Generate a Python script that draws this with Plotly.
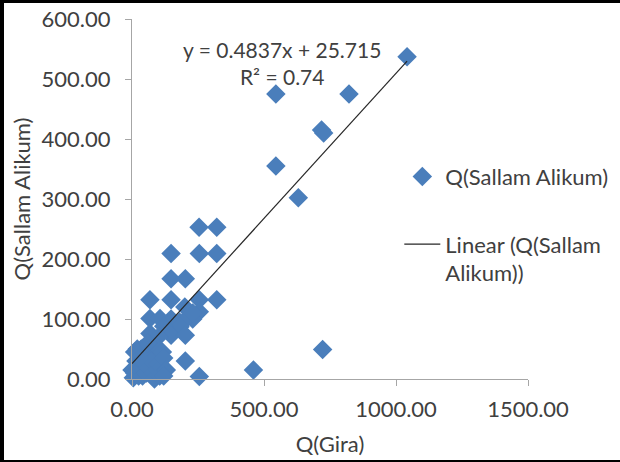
import plotly.graph_objects as go

# Data (Q(Gira) vs Q(Sallam Alikum))
q_gira = [1042, 545, 822, 718, 726, 545, 630, 722, 460, 255, 202,
          254, 321, 148, 255, 321, 148, 202,
          68, 148, 255, 321, 200, 255, 230, 68, 106, 148, 180, 205, 182, 120,
          68, 148, 202, 100, 230,
          5, 0, 10, 15, 20, 10, 25, 30, 35, 40, 45, 50, 55, 60, 65, 70, 75, 80,
          85, 90, 95, 100, 100, 105, 110, 115, 120, 130, 120, 60, 30]
q_sallam = [537, 475, 475, 415, 410, 355, 302, 49, 15, 4, 30,
            253, 253, 209, 209, 209, 167, 167,
            132, 132, 132, 132, 120, 112, 100, 101, 101, 100, 95, 100, 87, 88,
            76, 73, 73, 70, 110,
            2, 15, 10, 30, 50, 45, 5, 15, 50, 5, 25, 40, 10, 20, 55, 45, 30, 10,
            0, 30, 15, 50, 25, 5, 20, 45, 35, 15, 5, 60, 35]

slope = 0.4837
intercept = 25.715
r2 = 0.74
trend_x = [min(q_gira), max(q_gira)]
trend_y = [slope * v + intercept for v in trend_x]

x_ticks = [0, 500, 1000, 1500]
y_ticks = [0, 100, 200, 300, 400, 500, 600]

FONT = "Lato, Open Sans, sans-serif"
TXT = "#404040"
FS = 22

fig = go.Figure()
fig.add_trace(go.Scatter(
    x=q_gira, y=q_sallam, mode="markers", name="Q(Sallam Alikum)",
    legendgroup="a",
    marker=dict(symbol="diamond", size=15, color="#4A7EBB", line=dict(width=0)),
    cliponaxis=False,
))
fig.add_trace(go.Scatter(
    x=trend_x, y=trend_y, mode="lines", name="Linear (Q(Sallam<br>Alikum))",
    legendgroup="b",
    line=dict(color="#262626", width=1.2),
))

fig.add_annotation(
    x=0.378, y=0.955, xref="paper", yref="paper", showarrow=False,
    text=f"y = {slope}x + {intercept}<br>R² = {r2}",
    font=dict(family=FONT, size=21, color=TXT), align="center",
)

axis_common = dict(
    showgrid=False, zeroline=False, showline=True, linecolor="#A6A6A6",
    linewidth=1, ticks="outside", ticklen=6, tickcolor="#A6A6A6",
    tickformat=".2f", tickfont=dict(family=FONT, size=FS, color=TXT),
)

fig.update_layout(
    width=620, height=462,
    margin=dict(l=132, r=92, t=19, b=83, autoexpand=False),
    paper_bgcolor="white", plot_bgcolor="white",
    font=dict(family=FONT, size=FS, color=TXT),
    xaxis=dict(range=[0, 1500], tickvals=x_ticks, **axis_common,
               ticklabelstandoff=5,
               title=dict(text="Q(Gira)", font=dict(family=FONT, size=FS, color=TXT), standoff=15)),
    yaxis=dict(range=[0, 600], tickvals=y_ticks, **axis_common,
               ticklabelstandoff=10,
               title=dict(text="Q(Sallam Alikum)", font=dict(family=FONT, size=FS, color=TXT), standoff=4)),
    showlegend=True,
    legend=dict(x=0.675, y=0.62, xanchor="left", yanchor="top",
                bgcolor="rgba(0,0,0,0)", font=dict(family=FONT, size=FS, color=TXT),
                tracegroupgap=36, valign="top", traceorder="grouped", itemwidth=36),
)

# outer frame (left, top, bottom)
def px_x(p):
    return (p - 132) / 396
def px_y(p):
    return (379 - p) / 360

fig.add_shape(type="line", xref="paper", yref="paper", x0=px_x(2), x1=px_x(2),
              y0=px_y(0), y1=px_y(462), line=dict(color="black", width=4))
fig.add_shape(type="line", xref="paper", yref="paper", x0=px_x(0), x1=px_x(622),
              y0=px_y(1.5), y1=px_y(1.5), line=dict(color="black", width=3))
fig.add_shape(type="line", xref="paper", yref="paper", x0=px_x(0), x1=px_x(622),
              y0=px_y(461), y1=px_y(461), line=dict(color="black", width=2))

fig.write_html("out.html", config={"displayModeBar": False},
               post_script="document.body.style.margin='0';document.body.style.padding='0';")
